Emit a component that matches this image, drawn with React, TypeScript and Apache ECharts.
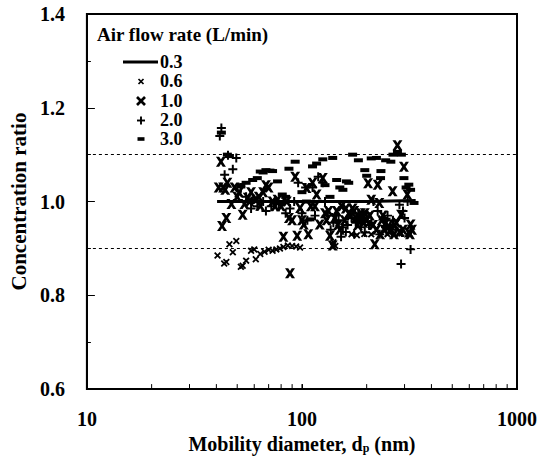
import React, { useEffect, useRef } from 'react';
import * as echarts from 'echarts';

// ---- data ----
const seriesNames = ['0.3', '0.6', '1.0', '2.0', '3.0'];

const flow03: [number, number][] = [
  [40.3, 1.0], [50, 1.0], [70, 1.0], [100, 1.0], [150, 1.0], [200, 1.0], [260, 1.001], [338, 1.002],
];

const flow06: [number, number][] = [
  [40.5, 0.885], [43.5, 0.868], [44.5, 0.871], [46, 0.909], [47.7, 0.892], [49.5, 0.916], [52, 0.861],
  [53, 0.863], [55, 0.874], [58, 0.895], [60, 0.898], [61, 0.877], [64, 0.888], [67, 0.893], [70, 0.897],
  [73, 0.895], [76, 0.898], [79, 0.9], [82, 0.903], [86, 0.906], [90, 0.905], [94, 0.904], [98, 0.902],
  [140, 0.913], [143, 0.905], [170, 0.93], [180, 0.928], [195, 0.931], [210, 0.93], [250, 0.93], [290, 0.932],
];

const flow10: [number, number][] = [
  [41, 1.03], [42, 1.085], [43, 1.03], [44, 1.025], [42.5, 0.948], [44.5, 0.965], [45, 1.04], [47, 0.995],
  [48.6, 1.03], [51, 1.02], [53, 0.972], [56, 1.008], [58, 1.02], [61, 1.005], [64, 0.991], [68, 1.035],
  [70, 1.03], [73, 1.0], [77, 1.004], [80, 0.99], [82, 0.925], [87, 0.965], [88, 0.847], [93, 1.053],
  [95, 0.927], [98, 0.986], [102, 0.951], [105, 1.029], [107, 0.93], [112, 1.04], [117, 1.015], [121, 0.951],
  [125, 1.05], [130, 0.96], [135, 0.927], [139, 0.906], [145, 0.98], [150, 0.94], [158, 0.96], [165, 0.975],
  [172, 0.985], [178, 0.965], [185, 0.96], [190, 0.97], [196, 0.975], [203, 1.039], [210, 1.004], [218, 0.909],
  [225, 1.036], [229, 0.997], [235, 0.96], [242, 0.94], [250, 0.945], [255, 0.937], [264, 1.022], [270, 0.95],
  [278, 1.12], [284, 0.935], [289, 0.972], [298, 1.074], [309, 1.015], [314, 0.934], [320, 0.951], [325, 0.94],
  [50, 1.01], [54, 0.995], [57, 1.0], [63, 1.01], [66, 1.02], [75, 0.99], [85, 1.0], [90, 0.96], [100, 0.96],
  [110, 0.99], [115, 0.99], [128, 0.975], [133, 0.98], [142, 0.965], [147, 0.95], [153, 0.99], [160, 0.985],
  [168, 0.97], [175, 0.98], [182, 0.95], [188, 0.975], [193, 0.955], [200, 0.96], [207, 0.97], [214, 0.95],
  [222, 0.94], [231, 0.93], [238, 0.97], [246, 0.955], [260, 0.94], [268, 0.93], [275, 0.955], [295, 0.94],
  [318, 0.93],
];

const flow20: [number, number][] = [
  [41.5, 1.14], [42.2, 1.157], [43.7, 1.057], [45.3, 1.099], [47.7, 1.069], [49.5, 1.093], [52, 1.03],
  [55, 1.01], [58, 0.985], [62, 0.99], [66, 1.0], [72, 0.99], [78, 0.995], [84, 0.975], [88, 0.985],
  [92, 1.0], [96, 1.04], [100, 0.975], [106, 0.96], [112, 1.03], [119, 1.053], [125, 1.04], [132, 0.97],
  [140, 0.955], [148, 0.96], [155, 0.945], [163, 0.95], [170, 0.965], [178, 0.955], [188, 0.945],
  [196, 0.934], [205, 0.95], [215, 1.0], [225, 0.98], [239, 0.965], [250, 0.97], [265, 0.96], [284, 0.993],
  [289, 0.867], [300, 0.965], [320, 0.898],
  [60, 1.005], [68, 0.98], [75, 1.0], [82, 1.0], [104, 1.03], [115, 0.97], [128, 1.0], [136, 0.94],
  [144, 0.97], [152, 0.925], [160, 0.935], [175, 0.93], [183, 0.975], [192, 0.96], [200, 0.975],
  [210, 0.955], [230, 0.93], [245, 0.945], [258, 0.95], [272, 0.94], [295, 0.98], [310, 1.0],
];

const flow30: [number, number][] = [
  [42.2, 1.147], [45, 1.1], [46, 1.097], [52, 1.035], [55, 1.04], [59, 1.046], [62, 1.05], [64, 1.064],
  [68, 1.067], [71, 1.066], [73, 1.065], [77, 1.043], [81, 1.015], [84, 1.01], [93, 1.085], [100, 1.02],
  [109, 0.962], [112, 1.075], [117, 1.081], [125, 1.09], [135, 1.01], [139, 1.093], [145, 1.046], [155, 1.025],
  [161, 1.043], [172, 1.1], [183, 1.088], [196, 1.067], [210, 1.092], [222, 1.093], [233, 1.065], [259, 1.085],
  [278, 1.106], [298, 1.05], [314, 1.036], [320, 1.025], [332, 0.997],
  [66, 1.062], [87, 1.07], [105, 1.0], [128, 1.035], [150, 1.03], [165, 1.04], [200, 1.055], [232, 1.05],
  [245, 1.088], [265, 1.1], [290, 1.1], [305, 1.03],
];

const refLines = [0.9, 1.1];
const xMinorTicks = [20, 30, 40, 50, 60, 70, 80, 90, 100, 200, 300, 400, 500, 600, 700, 800, 900];
const xRange = [10, 1000];
const yRange = [0.6, 1.4];
const yStep = 0.2;

const FONT = '"Liberation Serif", "Times New Roman", Times, serif';

const SYM_SMALL_X = 'path://M0,1.8L1.8,0L5,3.2L8.2,0L10,1.8L6.8,5L10,8.2L8.2,10L5,6.8L1.8,10L0,8.2L3.2,5Z';
const SYM_BOLD_X = 'path://M0,0L3.2,0L5,2.6L6.8,0L10,0L6.7,5L10,10L6.8,10L5,7.4L3.2,10L0,10L3.3,5Z';
const SYM_PLUS = 'path://M3.9,0L6.1,0L6.1,3.9L10,3.9L10,6.1L6.1,6.1L6.1,10L3.9,10L3.9,6.1L0,6.1L0,3.9L3.9,3.9Z';

export default function App() {
  const ref = useRef<HTMLDivElement>(null);

  useEffect(() => {
    if (!ref.current) return;
    const chart = echarts.init(ref.current, null, { renderer: 'svg' });

    const legendY = [62, 81.5, 101, 120.5, 139];
    const lx = 141;
    const legendGraphics: any[] = [
      {
        type: 'text', left: 97, top: 25,
        style: { text: 'Air flow rate (L/min)', font: `bold 19px ${FONT}`, fill: '#000' },
      },
      { type: 'line', shape: { x1: 123, y1: legendY[0], x2: 158, y2: legendY[0] }, style: { stroke: '#000', lineWidth: 3 } },
      { type: 'line', shape: { x1: lx - 2.5, y1: legendY[1] - 2.5, x2: lx + 2.5, y2: legendY[1] + 2.5 }, style: { stroke: '#000', lineWidth: 1.7 } },
      { type: 'line', shape: { x1: lx + 2.5, y1: legendY[1] - 2.5, x2: lx - 2.5, y2: legendY[1] + 2.5 }, style: { stroke: '#000', lineWidth: 1.7 } },
      { type: 'line', shape: { x1: lx - 4, y1: legendY[2] - 4, x2: lx + 4, y2: legendY[2] + 4 }, style: { stroke: '#000', lineWidth: 2.6 } },
      { type: 'line', shape: { x1: lx + 4, y1: legendY[2] - 4, x2: lx - 4, y2: legendY[2] + 4 }, style: { stroke: '#000', lineWidth: 2.6 } },
      { type: 'line', shape: { x1: lx - 4, y1: legendY[3], x2: lx + 4, y2: legendY[3] }, style: { stroke: '#000', lineWidth: 1.9 } },
      { type: 'line', shape: { x1: lx, y1: legendY[3] - 4, x2: lx, y2: legendY[3] + 4 }, style: { stroke: '#000', lineWidth: 1.9 } },
      { type: 'rect', shape: { x: lx - 3.5, y: legendY[4] - 1.8, width: 7, height: 3.6 }, style: { fill: '#000' } },
    ];
    seriesNames.forEach((n, i) => {
      legendGraphics.push({
        type: 'text', left: 160, top: legendY[i] - 9.5,
        style: { text: n, font: `bold 18px ${FONT}`, fill: '#000' },
      });
    });

    const scatterBase = {
      type: 'scatter' as const,
      itemStyle: { color: '#000', opacity: 1 },
      emphasis: { disabled: true },
      z: 3,
    };

    const option: any = {
      animation: false,
      backgroundColor: '#fff',
      grid: { left: 84, right: 21, top: 14, bottom: 66, show: true, borderColor: '#000', borderWidth: 2, containLabel: false },
      xAxis: {
        type: 'log',
        logBase: 10,
        min: xRange[0],
        max: xRange[1],
        name: 'Mobility diameter, d{sub|p} (nm)',
        nameLocation: 'middle',
        nameGap: 44,
        nameTextStyle: {
          fontFamily: FONT, fontWeight: 'bold', fontSize: 20, color: '#000',
          rich: {
            sub: { fontFamily: FONT, fontWeight: 'bold', fontSize: 12, color: '#000', verticalAlign: 'bottom', padding: [8, 0, 0, 0] },
          },
        },
        axisLine: { show: true, lineStyle: { color: '#000', width: 2 } },
        axisTick: { show: true, inside: true, length: 5, lineStyle: { color: '#000', width: 1 } },
        minorTick: { show: false },
        splitLine: { show: false },
        axisLabel: {
          fontFamily: FONT, fontWeight: 'bold', fontSize: 20, color: '#000', margin: 20,
          showMinLabel: true, showMaxLabel: true,
          formatter: (v: number) => String(Math.round(v)),
        },
      },
      yAxis: {
        type: 'value',
        min: yRange[0],
        max: yRange[1],
        interval: yStep,
        name: 'Concentration ratio',
        nameLocation: 'middle',
        nameGap: 52,
        nameTextStyle: { fontFamily: FONT, fontWeight: 'bold', fontSize: 21, color: '#000' },
        axisLine: { show: true, lineStyle: { color: '#000', width: 2 } },
        axisTick: { show: true, inside: true, length: 8, lineStyle: { color: '#000', width: 1 } },
        minorTick: { show: true, splitNumber: 2, length: 4, lineStyle: { color: '#000', width: 1 } },
        splitLine: { show: false },
        minorSplitLine: { show: false },
        axisLabel: {
          fontFamily: FONT, fontWeight: 'bold', fontSize: 20, color: '#000', margin: 22,
          formatter: (v: number) => v.toFixed(1),
        },
      },
      graphic: legendGraphics,
      series: [
        {
          name: seriesNames[0],
          type: 'line',
          data: flow03,
          showSymbol: false,
          lineStyle: { color: '#000', width: 3 },
          z: 4,
          markLine: {
            silent: true,
            symbol: 'none',
            label: { show: false },
            lineStyle: { color: '#000', width: 1, type: [3, 3] },
            data: refLines.map((v) => ({ yAxis: v })),
          },
        },
        { ...scatterBase, name: seriesNames[1], data: flow06, symbol: SYM_SMALL_X, symbolSize: 7 },
        { ...scatterBase, name: seriesNames[2], data: flow10, symbol: SYM_BOLD_X, symbolSize: 10 },
        { ...scatterBase, name: seriesNames[3], data: flow20, symbol: SYM_PLUS, symbolSize: 9 },
        { ...scatterBase, name: seriesNames[4], data: flow30, symbol: 'rect', symbolSize: [9, 4] },
        {
          type: 'custom',
          name: 'xminor',
          data: xMinorTicks.map((v) => [v, yRange[0]]),
          silent: true,
          clip: false,
          z: 5,
          renderItem: (_params: any, api: any) => {
            const p = api.coord([api.value(0), api.value(1)]);
            return {
              type: 'line',
              shape: { x1: p[0], y1: p[1], x2: p[0], y2: p[1] - 5 },
              style: { stroke: '#000', lineWidth: 1 },
            };
          },
        },
      ],
    };

    chart.setOption(option);
    return () => chart.dispose();
  }, []);

  return <div ref={ref} style={{ position: 'absolute', left: 0, top: 0, width: 540, height: 459 }} />;
}
